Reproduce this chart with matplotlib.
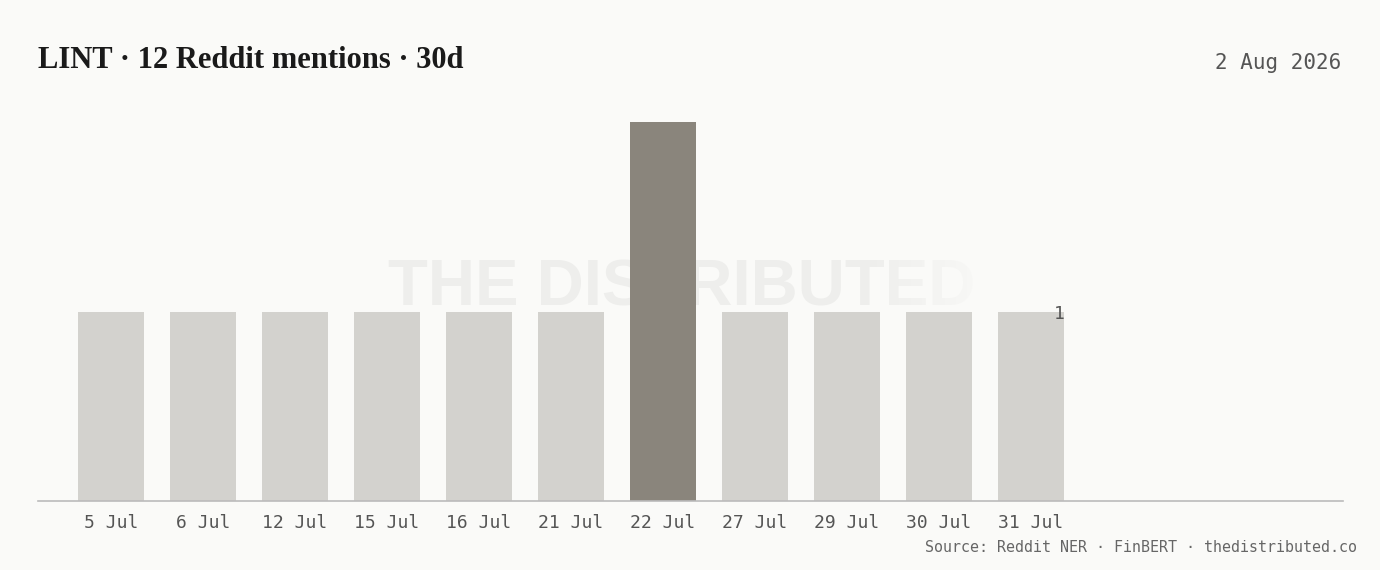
import numpy as np
import matplotlib
matplotlib.use("Agg")
import matplotlib.pyplot as plt

# data
dates = ["5 Jul", "6 Jul", "12 Jul", "15 Jul", "16 Jul", "21 Jul",
         "22 Jul", "27 Jul", "29 Jul", "30 Jul", "31 Jul"]
mentions = [1, 1, 1, 1, 1, 1, 2, 1, 1, 1, 1]
peak_day = "22 Jul"
title = "LINT · 12 Reddit mentions · 30d"
date_label = "2 Aug 2026"
source = "Source: Reddit NER · FinBERT · thedistributed.co"

bg = "#fafaf8"
bar_col = "#d3d2ce"
peak_col = "#8a857c"
mono = ["DejaVu Sans Mono"]

fig = plt.figure(figsize=(13.8, 5.7), dpi=100, facecolor=bg)
ax = fig.add_axes([38 / 1380, 69 / 570, 1305 / 1380, 379 / 570])
ax.patch.set_visible(False)

x = np.arange(len(dates))
colors = [peak_col if d == peak_day else bar_col for d in dates]
ax.bar(x, mentions, width=0.717, color=colors, zorder=2)

ax.set_xlim(-0.793, 13.39)
ax.set_ylim(0, max(mentions))
ax.set_xticks(x)
ax.set_xticklabels(dates, family=mono, fontsize=13, color="#555555")
ax.tick_params(axis="x", length=0, pad=9)
ax.set_yticks([])
for s in ["top", "left", "right"]:
    ax.spines[s].set_visible(False)
ax.spines["bottom"].set_color("#bbbbbb")
ax.spines["bottom"].set_linewidth(1.2)

# value label on the last bar
ax.annotate(str(mentions[-1]), (x[-1] + 0.36, mentions[-1]), xytext=(0, -2),
            textcoords="offset points", ha="right", va="center",
            family=mono, fontsize=13, color="#555555", zorder=3)

# watermark behind the bars, fading to the right
fig.text(682 / 1380, 1 - 289 / 570, "THE DISTRIBUTED", ha="center", va="center",
         fontsize=47, fontweight="bold", family="Liberation Sans",
         color="#eeeeec", zorder=-2)
w, h = 125, 70
fade = np.zeros((h, w, 4))
fade[..., :3] = matplotlib.colors.to_rgb(bg)
fade[..., 3] = np.linspace(0, 0.92, w)[None, :]
fig.figimage(fade, xo=865, yo=570 - 325, origin="upper", zorder=-1)

fig.text(38 / 1380, 1 - 60 / 570, title, ha="left", va="center",
         fontsize=22, fontweight="bold", family="Liberation Serif", color="#1a1a1a")
fig.text(1341 / 1380, 1 - 63 / 570, date_label, ha="right", va="center",
         family=mono, fontsize=15, color="#555555")
fig.text(1357 / 1380, 1 - 547 / 570, source, ha="right", va="center",
         family=mono, fontsize=10.8, color="#666666")

fig.savefig("out.png", dpi=100, facecolor=bg)
